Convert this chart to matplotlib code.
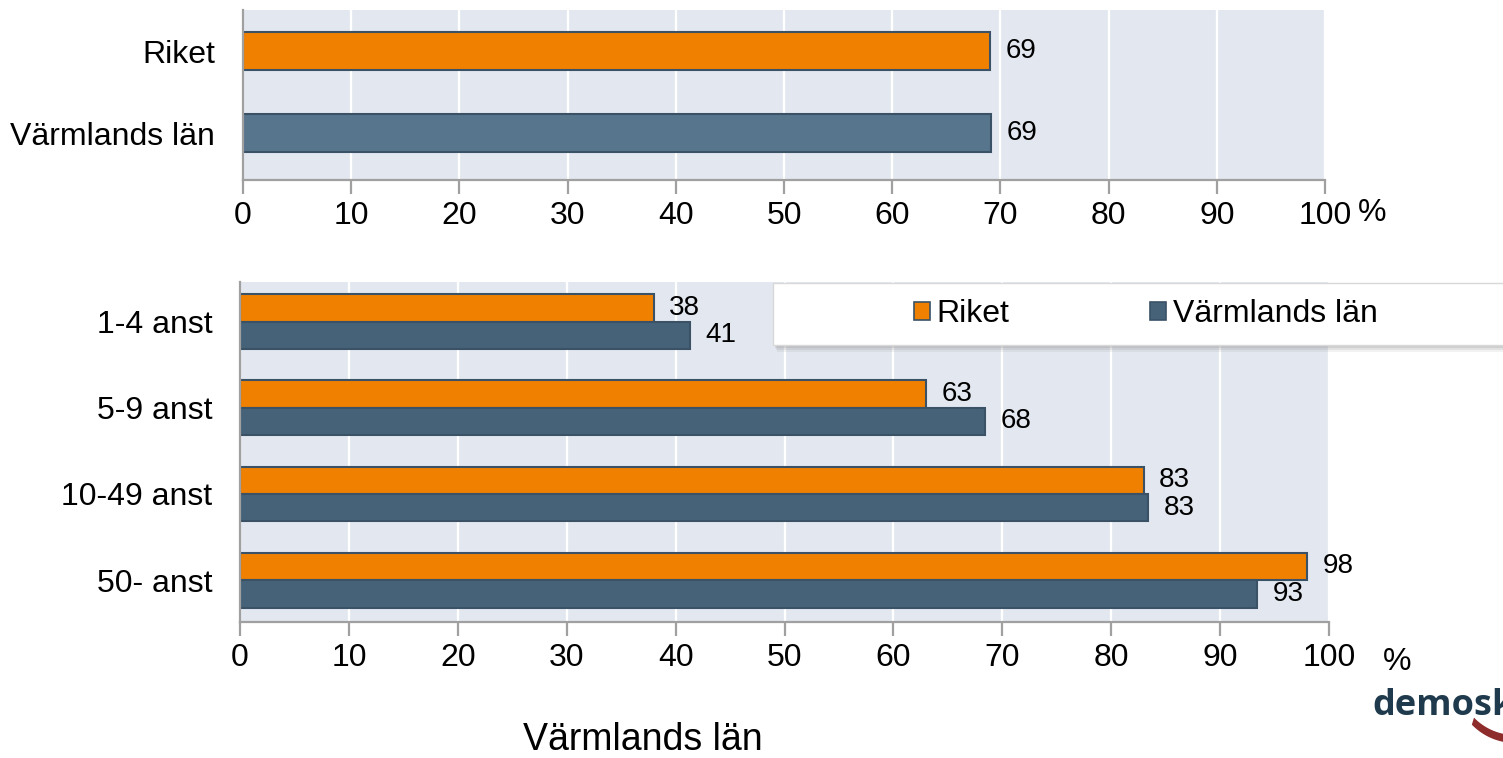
import matplotlib.pyplot as plt
import numpy as np
from matplotlib.patches import Patch, Rectangle, Polygon
from matplotlib.transforms import IdentityTransform

plt.rcParams['font.family'] = ['Liberation Sans', 'DejaVu Sans']

# data
top_labels = ["Riket", "Värmlands län"]
top_values = [69.0, 69.1]

size_labels = ["1-4 anst", "5-9 anst", "10-49 anst", "50- anst"]
riket = [38.0, 63.0, 83.0, 98.0]
varmland = [41.3, 68.4, 83.4, 93.4]

ticks = np.arange(0, 101, 10)

orange = "#F08000"
blue_top = "#58758E"
blue_bot = "#466278"
edge = "#3B5266"
bg = "#E3E8F0"
spine = "#A0A0A0"


def style_axes(ax):
    ax.set_facecolor(bg)
    ax.set_xlim(0, 100)
    ax.set_xticks(ticks)
    ax.grid(axis="x", color="white", linewidth=1.6)
    ax.set_axisbelow(True)
    for s in ["top", "right"]:
        ax.spines[s].set_visible(False)
    for s in ["left", "bottom"]:
        ax.spines[s].set_color(spine)
        ax.spines[s].set_linewidth(1.6)
    ax.tick_params(axis="x", direction="out", length=10, width=1.6, color=spine,
                   labelsize=23, pad=5)
    ax.tick_params(axis="y", length=0, labelsize=23, pad=20)


fig = plt.figure(figsize=(15.03, 7.58), dpi=100)

# top panel
ax1 = fig.add_axes([0.1617, 0.7625, 0.7199, 0.2243])
style_axes(ax1)
ypos = [1, 0]
ax1.barh(ypos, top_values, height=0.46, color=[orange, blue_top],
         edgecolor=edge, linewidth=1.5)
ax1.set_ylim(-0.573, 1.5)
ax1.set_yticks(ypos)
ax1.set_yticklabels(top_labels)
for y, v in zip(ypos, top_values):
    ax1.text(v + 1.5, y, str(int(round(v))), va="center", ha="left", fontsize=20)
fig.text(1372 / 1503, 1 - 213 / 758, "%", fontsize=23, ha="center", va="center")

# bottom panel
ax2 = fig.add_axes([0.1597, 0.1794, 0.7246, 0.4486])
style_axes(ax2)
pos = np.arange(len(size_labels))[::-1]
h = 0.318
ax2.barh(pos + h / 2, riket, height=h, color=orange, edgecolor=edge,
         linewidth=1.5, label="Riket")
ax2.barh(pos - h / 2, varmland, height=h, color=blue_bot, edgecolor=edge,
         linewidth=1.5, label="Värmlands län")
ax2.set_ylim(-0.486, 3.46)
ax2.set_yticks(pos)
ax2.set_yticklabels(size_labels)
for p, r, v in zip(pos, riket, varmland):
    ax2.text(r + 1.4, p + h / 2, str(int(round(r))), va="center", ha="left", fontsize=20)
    ax2.text(v + 1.4, p - h / 2, str(int(round(v))), va="center", ha="left", fontsize=20)
fig.text(643 / 1503, 1 - 750 / 758, "Värmlands län", fontsize=27,
         ha="center", va="baseline")
fig.text(1397 / 1503, 1 - 662 / 758, "%", fontsize=23, ha="center", va="center")

# legend box with shadow
x0, y0 = 773 / 1503, 1 - 345 / 758
w, hh = 760 / 1503, 62 / 758
for k, a in enumerate([0.10, 0.14, 0.18]):
    fig.patches.append(Rectangle((x0 + (4 - k) / 1503, y0 - (7 - 2 * k) / 758), w, hh,
                                 transform=fig.transFigure, facecolor="#808080",
                                 alpha=a, edgecolor="none", zorder=3))
fig.patches.append(Rectangle((x0, y0), w, hh, transform=fig.transFigure,
                             facecolor="white", edgecolor="#d8d8d8",
                             linewidth=1, zorder=4))
handles = [Patch(facecolor=orange, edgecolor=edge, linewidth=1.2, label="Riket"),
           Patch(facecolor=blue_bot, edgecolor=edge, linewidth=1.2, label="Värmlands län")]
leg = fig.legend(handles=handles, loc="center", bbox_to_anchor=(1146 / 1503, 1 - 314 / 758),
                 ncol=2, frameon=False, fontsize=23, handlelength=0.5,
                 handleheight=0.5, handletextpad=0.2, columnspacing=4.4)
leg.set_zorder(5)

# logo (text + red swoosh, drawn in pixel coordinates)
fig.text(1372 / 1503, 1 - 715 / 758, "demoskop", fontsize=26, fontweight="bold",
         color="#1E3A4C", ha="left", va="baseline", family=["Open Sans", "DejaVu Sans"])
t_out = np.radians(np.linspace(224, 272, 40))
t_in = t_out[::-1]
outer = np.column_stack([1515 + 60 * np.cos(t_out), 75 + 60 * np.sin(t_out)])
inner = np.column_stack([1515 + 57 * np.cos(t_in), 80 + 57 * np.sin(t_in)])
fig.patches.append(Polygon(np.vstack([outer, inner]), closed=True,
                           transform=IdentityTransform(), facecolor="#8E2B2B",
                           edgecolor="none"))

fig.savefig("out.png", dpi=100)
